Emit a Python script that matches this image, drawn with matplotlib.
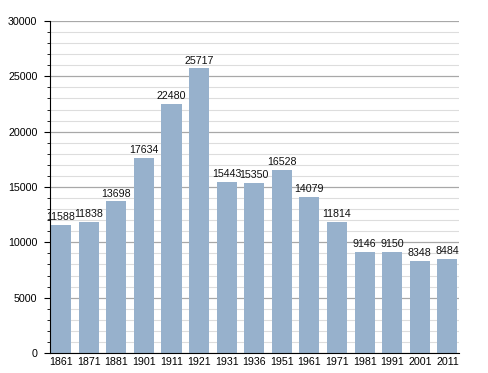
import matplotlib
matplotlib.use("Agg")
import matplotlib.pyplot as plt
from matplotlib.ticker import MultipleLocator

years = ["1861", "1871", "1881", "1901", "1911", "1921", "1931", "1936",
         "1951", "1961", "1971", "1981", "1991", "2001", "2011"]
population = [11588, 11838, 13698, 17634, 22480, 25717, 15443, 15350,
              16528, 14079, 11814, 9146, 9150, 8348, 8484]

plt.rcParams['font.family'] = ['Liberation Sans', 'DejaVu Sans']

fig = plt.figure(figsize=(4.88, 3.73), dpi=100)
ax = fig.add_axes([50/488, 20/373, 409/488, 332/373])

x = list(range(len(years)))
ax.set_ylim(0, 30000)
ax.set_xlim(-0.4, len(years) - 1 + 0.42)
ax.yaxis.set_major_locator(MultipleLocator(5000))
ax.yaxis.set_minor_locator(MultipleLocator(1000))
ax.grid(axis='y', which='major', color='#a8a8a8', linewidth=0.9)
ax.grid(axis='y', which='minor', color='#dddddd', linewidth=0.8)
ax.set_axisbelow(True)

bars = ax.bar(x, population, width=0.73, color='#97b1cc', zorder=2)
for xi, v in zip(x, population):
    ax.text(xi, v + 250, str(v), ha='center', va='bottom', fontsize=7.7, color='#111111')

ax.set_xticks(x)
ax.set_xticklabels(years, fontsize=7.7)
ax.tick_params(axis='x', length=0, pad=3)
ax.tick_params(axis='y', which='major', length=4, labelsize=7.7, pad=5)
ax.tick_params(axis='y', which='minor', length=2.5)
for s in ['top', 'right']:
    ax.spines[s].set_visible(False)
ax.spines['left'].set_color('black')
ax.spines['bottom'].set_color('black')

fig.savefig("out.png", dpi=100)
